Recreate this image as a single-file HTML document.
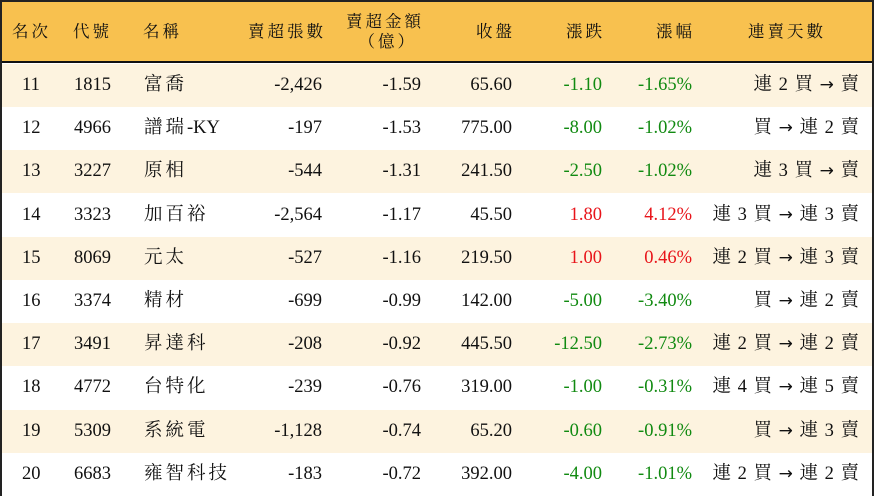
<!DOCTYPE html>
<html><head><meta charset="utf-8"><style>
*{margin:0;padding:0;box-sizing:border-box}
body{width:874px;height:496px;background:#fff;overflow:hidden;font-family:"Liberation Serif","Noto Serif CJK SC",serif;color:#111}
#t{position:absolute;left:0;top:0;width:874px;height:496px;border:2px solid #222;}
.h{position:absolute;left:0;top:0;width:870px;height:61px;background:#f8c14f;border-bottom:2px solid #111}
.r{position:absolute;left:0;width:870px;height:43px}
.c{position:absolute;white-space:nowrap;font-size:18.5px;line-height:43px}
.hc{position:absolute;white-space:nowrap;font-size:16.5px;letter-spacing:3px;line-height:18px}
.g{color:#118a11}.red{color:#e8141a}
.k{letter-spacing:3px}
.a{font-family:"DejaVu Sans",sans-serif;font-size:17px}
</style></head><body><div id="t">
<div class="h">
<div class="hc" style="left:10px;top:21px">名次</div>
<div class="hc" style="left:71px;top:21px">代號</div>
<div class="hc" style="left:141px;top:21px">名稱</div>
<div class="hc" style="right:546px;top:21px">賣超張數</div>
<div class="hc" style="right:448px;top:11px">賣超金額</div>
<div class="hc" style="right:455px;top:31px">（億）</div>
<div class="hc" style="right:357px;top:21px">收盤</div>
<div class="hc" style="right:267px;top:21px">漲跌</div>
<div class="hc" style="right:177px;top:21px">漲幅</div>
<div class="hc" style="left:746px;top:21px">連賣天數</div>
</div>
<div id="rows"></div>
</div>
<script>
var d=[["11","1815","富喬","-2,426","-1.59","65.60","-1.10","-1.65%","連 2 買 → 賣"],
["12","4966","譜瑞<span style=\"letter-spacing:0\">-KY</span>","-197","-1.53","775.00","-8.00","-1.02%","買 → 連 2 賣"],
["13","3227","原相","-544","-1.31","241.50","-2.50","-1.02%","連 3 買 → 賣"],
["14","3323","加百裕","-2,564","-1.17","45.50","1.80","4.12%","連 3 買 → 連 3 賣"],
["15","8069","元太","-527","-1.16","219.50","1.00","0.46%","連 2 買 → 連 3 賣"],
["16","3374","精材","-699","-0.99","142.00","-5.00","-3.40%","買 → 連 2 賣"],
["17","3491","昇達科","-208","-0.92","445.50","-12.50","-2.73%","連 2 買 → 連 2 賣"],
["18","4772","台特化","-239","-0.76","319.00","-1.00","-0.31%","連 4 買 → 連 5 賣"],
["19","5309","系統電","-1,128","-0.74","65.20","-0.60","-0.91%","買 → 連 3 賣"],
["20","6683","雍智科技","-183","-0.72","392.00","-4.00","-1.01%","連 2 買 → 連 2 賣"]];
var h="";
d.forEach(function(r,i){
var cl=r[6][0]=="-"?"g":"red";
h+='<div class="r" style="top:'+(62+i*43.2)+'px;background:'+(i%2==0?'#fdf3df':'#fff')+'">'+
'<div class="c" style="left:20px">'+r[0]+'</div>'+
'<div class="c" style="left:72px">'+r[1]+'</div>'+
'<div class="c k" style="left:142px">'+r[2]+'</div>'+
'<div class="c" style="right:550px">'+r[3]+'</div>'+
'<div class="c" style="right:451px">'+r[4]+'</div>'+
'<div class="c" style="right:360px">'+r[5]+'</div>'+
'<div class="c '+cl+'" style="right:270px">'+r[6]+'</div>'+
'<div class="c '+cl+'" style="right:180px">'+r[7]+'</div>'+
'<div class="c" style="right:12px;letter-spacing:1px">'+r[8].replace("→",'<span class="a">→</span>')+'</div></div>';});
document.getElementById("rows").innerHTML=h;
</script>
</body></html>
